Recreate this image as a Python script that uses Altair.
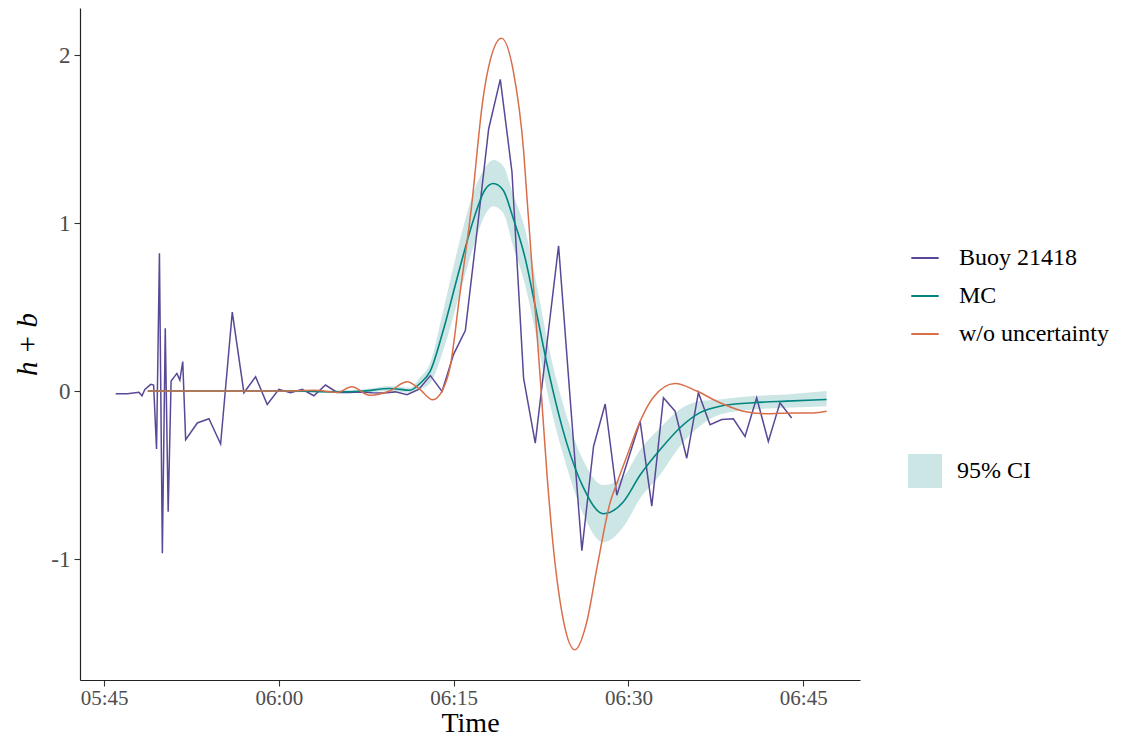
import altair as alt
import pandas as pd

# ---------------- data (minutes after 05:45) ----------------
buoy_minutes = [1, 2, 3, 3.25, 3.5, 4, 4.25, 4.5, 4.75, 5, 5.25, 5.5, 5.75, 6.25, 6.5, 6.75,
                7, 8, 9, 10, 11, 12, 13, 14, 15, 16, 17, 18, 19, 20, 21, 22, 23, 24, 25, 26,
                27, 28, 29, 30, 31, 32, 33, 34, 35, 36, 37, 38, 39, 40, 41, 42, 43, 44, 45,
                46, 47, 48, 49, 50, 51, 52, 53, 54, 55, 56, 57, 58, 59]
buoy_values = [-0.016, -0.016, -0.007, -0.028, 0.01, 0.04, 0.036, -0.345, 0.82, -0.966, 0.373,
               -0.718, 0.06, 0.105, 0.065, 0.175,
               -0.29, -0.19, -0.165, -0.315, 0.47, -0.01, 0.085, -0.08, 0.01, -0.01, 0.01,
               -0.028, 0.036, -0.008, -0.008, -0.005, -0.01, -0.012, -0.005, -0.022, 0.01,
               0.092, -0.002, 0.22, 0.36, 0.95, 1.56, 1.855, 1.305, 0.075, -0.31, 0.28, 0.865,
               -0.05, -0.95, -0.33, -0.077, -0.62, -0.40, -0.18, -0.685, -0.04, -0.12, -0.40,
               -0.01, -0.20, -0.17, -0.165, -0.27, -0.04, -0.30, -0.07, -0.16]

mc_minutes = [3.75, 10, 16, 20, 22.25, 24.5, 26.25, 27.1, 28.0, 29.1, 30.4, 31.7, 32.7, 33.4,
              34.25, 35.1, 36.1, 37.1, 38.1, 39.7, 41.1, 42.85, 44.55, 46.0, 47.7, 49.4, 51.1,
              52.85, 55.7, 58.55, 62.0]
mc_values = [0, 0, 0, -0.005, 0.0, 0.015, 0.005, 0.045, 0.12, 0.36, 0.70, 1.02, 1.20, 1.235,
             1.195, 1.03, 0.80, 0.47, 0.13, -0.31, -0.57, -0.73, -0.66, -0.50, -0.35, -0.22,
             -0.13, -0.09, -0.07, -0.06, -0.05]
ci_low = [-0.005, -0.005, -0.005, -0.01, -0.01, 0.0, -0.01, 0.01, 0.05, 0.24, 0.55, 0.86, 1.05,
          1.10, 1.06, 0.86, 0.64, 0.32, -0.03, -0.45, -0.73, -0.90, -0.81, -0.64, -0.50, -0.33,
          -0.21, -0.14, -0.11, -0.10, -0.09]
ci_high = [0.005, 0.005, 0.005, 0.005, 0.01, 0.03, 0.02, 0.08, 0.17, 0.48, 0.86, 1.18, 1.33,
           1.375, 1.34, 1.17, 0.97, 0.64, 0.28, -0.15, -0.41, -0.56, -0.51, -0.35, -0.22, -0.11,
           -0.06, -0.05, -0.03, -0.02, 0.0]

wo_minutes = [3.75, 10, 16, 18, 20, 21.25, 22.8, 24.5, 26.0, 27.1, 28.2, 29.0, 29.7, 30.5, 31.5,
              32.5, 32.85, 34.1, 35.1, 36.0, 36.3, 36.85, 37.4, 38.0, 38.55, 39.4, 40.4, 41.4,
              42.3, 43.4, 44.1, 44.85, 46.0, 47.1, 49.0, 50.85, 52.85, 54.85, 56.85, 59.15,
              60.85, 62.0]
wo_values = [0, 0, 0.0, 0.005, -0.008, 0.025, -0.025, 0.0, 0.055, 0.01, -0.052, 0.0, 0.145, 0.56,
             1.08, 1.73, 1.88, 2.10, 1.91, 1.43, 1.14, 0.62, 0.105, -0.49, -0.93, -1.36, -1.54,
             -1.38, -1.05, -0.67, -0.53, -0.39, -0.18, -0.04, 0.045, 0.0, -0.07, -0.12, -0.135,
             -0.13, -0.13, -0.12]

series_names = ["Buoy 21418", "MC", "w/o uncertainty"]
series_colors = ["#5a4896", "#008580", "#d86e4a"]
band_name = "95% CI"
band_color = "#cce5e5"
tick_times = ["05:45", "06:00", "06:15", "06:30", "06:45"]

base = pd.Timestamp("2000-01-01 05:45:00")


def to_time(mins):
    return [base + pd.Timedelta(minutes=m) for m in mins]


buoy_df = pd.DataFrame({"time": to_time(buoy_minutes), "value": buoy_values, "series": series_names[0]})
mc_df = pd.DataFrame({"time": to_time(mc_minutes), "value": mc_values, "series": series_names[1]})
wo_df = pd.DataFrame({"time": to_time(wo_minutes), "value": wo_values, "series": series_names[2]})
ci_df = pd.DataFrame({"time": to_time(mc_minutes), "lo": ci_low, "hi": ci_high, "band": band_name})

FONT = "Liberation Serif"


def dt(h, m, s=0):
    return alt.DateTime(year=2000, month=1, date=1, hours=h, minutes=m, seconds=s)


x_scale = alt.Scale(domain=[dt(5, 42, 56), dt(6, 49, 52)])
y_scale = alt.Scale(domain=[-1.72, 2.28], nice=False, zero=False)

x_axis = alt.Axis(values=[dt(int(t[:2]), int(t[3:])) for t in tick_times], format="%H:%M",
                  grid=False, tickSize=6, labelPadding=1, labelFontSize=21,
                  titleY=51, titleBaseline="alphabetic", titleFontSize=28)
y_axis = alt.Axis(values=[-1, 0, 1, 2], labelExpr="'' + datum.value", grid=False, tickSize=6,
                  labelPadding=4, titleX=-44, titleY=336, titleAngle=270, titleFontSize=29,
                  titleBaseline="alphabetic", titleAlign="center", titleFontStyle="italic")

stroke_enc = alt.Stroke(
    "series:N",
    scale=alt.Scale(domain=series_names, range=series_colors),
    legend=alt.Legend(title=None, orient="none", legendX=830, legendY=235, padding=0,
                      symbolType="stroke", symbolSize=750, symbolStrokeWidth=2,
                      labelOffset=19, rowPadding=11, labelFontSize=24, labelFont=FONT,
                      labelColor="black"),
)

area = alt.Chart(ci_df).mark_area(interpolate="monotone", opacity=1).encode(
    x=alt.X("time:T", scale=x_scale, axis=x_axis, title="Time"),
    y=alt.Y("lo:Q", scale=y_scale, axis=y_axis, title="h + b"),
    y2="hi:Q",
    fill=alt.Fill("band:N", scale=alt.Scale(domain=[band_name], range=[band_color]),
                  legend=alt.Legend(title=None, orient="none", legendX=828, legendY=446,
                                    padding=0, symbolType="square", symbolSize=1156,
                                    symbolStrokeWidth=0, symbolOpacity=1, labelOffset=15,
                                    labelFontSize=24, labelFont=FONT, labelColor="black")),
)

buoy = alt.Chart(buoy_df).mark_line(strokeWidth=1.5).encode(
    x="time:T", y="value:Q", stroke=stroke_enc)
mc = alt.Chart(mc_df).mark_line(strokeWidth=1.6, interpolate="monotone").encode(
    x="time:T", y="value:Q", stroke=stroke_enc)
wo = alt.Chart(wo_df).mark_line(strokeWidth=1.5, interpolate="monotone").encode(
    x="time:T", y="value:Q", stroke=stroke_enc)

chart = alt.layer(area, buoy, mc, wo).properties(
    width=780, height=672,
    padding={"left": 72, "top": 0, "right": 277, "bottom": 57},
    autosize="none",
).configure_view(stroke=None).configure_axis(
    labelFont=FONT, labelFontSize=23, labelColor="#4d4d4d",
    titleFont=FONT, titleFontSize=32, titleColor="black", titleFontWeight="normal",
    domainColor="#222222", domainWidth=1.2, tickColor="#333333", tickWidth=1.1,
)

chart.save("out.html", embed_options={"renderer": "svg", "actions": False})
